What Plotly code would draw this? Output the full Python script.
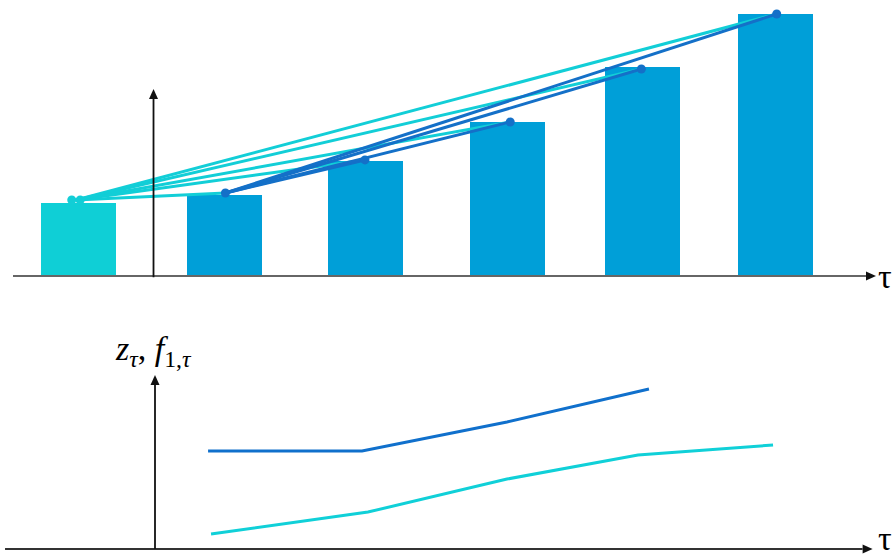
import plotly.graph_objects as go

# ---- data -------------------------------------------------------------
# bar series (observation times and values)
bar_tau = [-0.53, 0.50, 1.50, 2.51, 3.47, 4.41]
bar_val = [2.79, 3.09, 4.39, 5.88, 7.98, 10.0]
bar_colors = ["#0fcfd6", "#009fd8", "#009fd8", "#009fd8", "#009fd8", "#009fd8"]

# anchor point of the older fits (two overlapping dots)
anchor_tau = [-0.58, -0.52]
anchor_val = [2.90, 2.90]

# fitted points on the later bars
fit_tau = [0.51, 1.50, 2.53, 3.46, 4.42]
fit_val = [3.17, 4.43, 5.88, 7.90, 10.0]

# lower panel series
z_tau = [0.387, 1.479, 2.507, 3.514]
z_val = [3.74, 3.74, 4.85, 6.11]
f_tau = [0.408, 1.521, 2.507, 3.436, 4.394]
f_val = [0.57, 1.41, 2.67, 3.59, 3.97]

CYAN = "#12ced7"
BLUE = "#1470c8"
SERIF = "Liberation Serif"

fig = go.Figure()

# bars
fig.add_trace(go.Bar(x=bar_tau, y=bar_val, width=0.532, marker=dict(color=bar_colors, line=dict(width=0)),
                     xaxis="x", yaxis="y", showlegend=False))

# cyan segments: anchor -> each fitted point
a_tau = sum(anchor_tau) / len(anchor_tau)
a_val = anchor_val[0]
for t, v in zip(fit_tau, fit_val):
    fig.add_trace(go.Scatter(x=[a_tau, t], y=[a_val, v], mode="lines",
                             line=dict(color=CYAN, width=3), xaxis="x", yaxis="y", showlegend=False))

# blue segments: first fitted point -> later fitted points
for t, v in zip(fit_tau[1:], fit_val[1:]):
    fig.add_trace(go.Scatter(x=[fit_tau[0], t], y=[fit_val[0], v], mode="lines",
                             line=dict(color=BLUE, width=3), xaxis="x", yaxis="y", showlegend=False))

# dots
fig.add_trace(go.Scatter(x=anchor_tau, y=anchor_val, mode="markers",
                         marker=dict(color=CYAN, size=9), xaxis="x", yaxis="y", showlegend=False))
fig.add_trace(go.Scatter(x=fit_tau, y=fit_val, mode="markers",
                         marker=dict(color=BLUE, size=9), xaxis="x", yaxis="y", showlegend=False))

# lower panel lines
fig.add_trace(go.Scatter(x=z_tau, y=z_val, mode="lines", line=dict(color="#1070cc", width=3),
                         xaxis="x2", yaxis="y2", showlegend=False))
fig.add_trace(go.Scatter(x=f_tau, y=f_val, mode="lines", line=dict(color="#10d0d8", width=3),
                         xaxis="x2", yaxis="y2", showlegend=False))

# ---- axes drawn as lines with filled arrowheads ------------------------
X_RANGE = [-1.0887, 5.2447]
X_PX = 141.0   # pixels per x unit
Y_PX = 26.2    # pixels per y unit (both panels)
HEAD_LEN, HEAD_HALF = 10.0, 4.5


def axis_arrow(xref, yref, x0, y0, x1, y1, color):
    """Axis line from (x0, y0) to the tip (x1, y1) plus a triangular head."""
    shapes = []
    if y0 == y1:  # horizontal, pointing right
        base = x1 - HEAD_LEN / X_PX
        hh = HEAD_HALF / Y_PX
        shapes.append(dict(type="line", xref=xref, yref=yref, x0=x0, y0=y0, x1=base, y1=y1,
                           line=dict(color=color, width=1.8)))
        path = f"M {x1},{y1} L {base},{y1 + hh} L {base},{y1 - hh} Z"
    else:  # vertical, pointing up
        base = y1 - HEAD_LEN / Y_PX
        hw = HEAD_HALF / X_PX
        shapes.append(dict(type="line", xref=xref, yref=yref, x0=x0, y0=y0, x1=x1, y1=base,
                           line=dict(color=color, width=1.8)))
        path = f"M {x1},{y1} L {x1 - hw},{base} L {x1 + hw},{base} Z"
    shapes.append(dict(type="path", xref=xref, yref=yref, path=path,
                       fillcolor="#111111", line=dict(width=0)))
    return shapes


shapes = []
shapes += axis_arrow("x", "y", -0.9965, 0, 5.124, 0, "#666666")
shapes += axis_arrow("x", "y", 0, -0.05, 0, 7.137, "#111111")
shapes += axis_arrow("x2", "y2", -1.053, 0, 5.10, 0, "#333333")
shapes += axis_arrow("x2", "y2", 0.0106, 0, 0.0106, 6.64, "#111111")

annotations = [
    dict(x=1.0, y=1 - 276 / 558, xref="paper", yref="paper", text="τ", showarrow=False,
         xanchor="right", yanchor="middle", borderpad=0,
         font=dict(family=SERIF, size=34, color="black")),
    dict(x=1.0, y=0.0, xref="paper", yref="paper", text="τ", showarrow=False,
         xanchor="right", yanchor="bottom", borderpad=0,
         font=dict(family=SERIF, size=34, color="black")),
    dict(x=-0.285, y=7.55, xref="x2", yref="y2",
         text="<i>z</i><sub><i>τ</i></sub>, <i>f</i><sub>1,<i>τ</i></sub>",
         showarrow=False, xanchor="left", yanchor="middle",
         font=dict(family=SERIF, size=34, color="black")),
]

hidden = dict(visible=False, showgrid=False, zeroline=False)
fig.update_layout(
    width=893, height=558, margin=dict(l=0, r=0, t=0, b=0),
    paper_bgcolor="white", plot_bgcolor="white",
    xaxis=dict(range=X_RANGE, domain=[0, 1], anchor="y", **hidden),
    yaxis=dict(range=[-1.3923, 10.5344], domain=[0.44, 1.0], anchor="x", **hidden),
    xaxis2=dict(range=X_RANGE, domain=[0, 1], anchor="y2", **hidden),
    yaxis2=dict(range=[-0.3435, 8.6015], domain=[0.0, 0.42], anchor="x2", **hidden),
    shapes=shapes,
    annotations=annotations,
    bargap=0,
)

fig.write_html("out.html")
